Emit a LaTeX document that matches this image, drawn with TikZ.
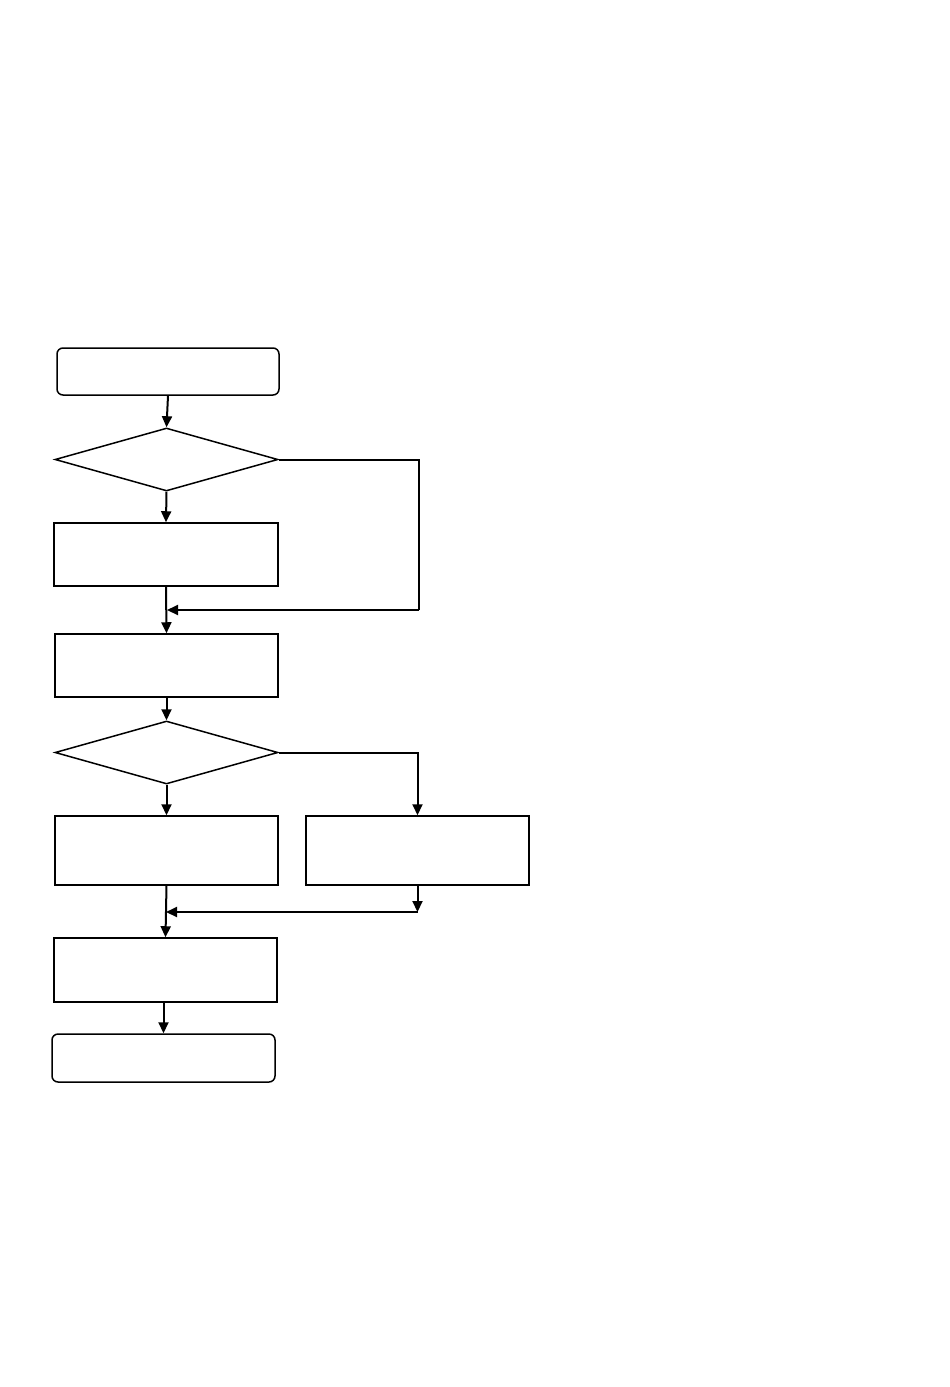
\documentclass[tikz,border=0pt]{standalone}
\usetikzlibrary{shapes.geometric,arrows.meta}
\begin{document}
\begin{tikzpicture}[x=1pt,y=-1pt,
  box/.style={draw,line width=1.5pt,rectangle,inner sep=0pt},
  term/.style={box,rounded corners=6pt},
  decision/.style={draw,line width=1.5pt,diamond,inner sep=0pt,minimum width=223pt,minimum height=63pt,aspect=3.5},
  flow/.style={line width=2pt,-{Triangle[length=11pt,width=10pt]}},
  plain/.style={line width=2pt}]
\useasboundingbox (0,0) rectangle (950,1387);
\node[term,minimum width=222pt,minimum height=47pt] (start) at (168,371.5) {};
\node[decision] (d1) at (166.5,459.5) {};
\node[box,minimum width=224pt,minimum height=63pt] (a) at (166,554.5) {};
\node[box,minimum width=223pt,minimum height=63pt] (b) at (166.5,665.5) {};
\node[decision] (d2) at (166.5,752.5) {};
\node[box,minimum width=223pt,minimum height=69pt] (c) at (166.5,850.5) {};
\node[box,minimum width=223pt,minimum height=69pt] (d) at (417.5,850.5) {};
\node[box,minimum width=223pt,minimum height=64pt] (e) at (165.5,970) {};
\node[term,minimum width=223pt,minimum height=48pt] (end) at (163.5,1058) {};
\coordinate (r1) at (419,459.5);
\coordinate (r2) at (419,610);
\coordinate (m1) at (167,610);
\coordinate (r3) at (417.5,752.5);
\coordinate (r4) at (417.5,912);
\coordinate (m2) at (166,912);
\draw[flow] (start.south) -- (d1.north);
\draw[flow] (d1.south) -- (a.north);
\draw[flow] (a.south) -- (b.north);
\draw[plain] (d1.east) -- (r1) -- (r2);
\draw[flow] (r2) -- (m1);
\draw[flow] (b.south) -- (d2.north);
\draw[flow] (d2.south) -- (c.north);
\draw[flow] (d2.east) -- (r3) -- (d.north);
\draw[flow] (c.south) -- (e.north);
\draw[flow] (d.south) -- (r4);
\draw[flow] (r4) -- (m2);
\draw[flow] (end.north |- e.south) -- (end.north);
\end{tikzpicture}
\end{document}
